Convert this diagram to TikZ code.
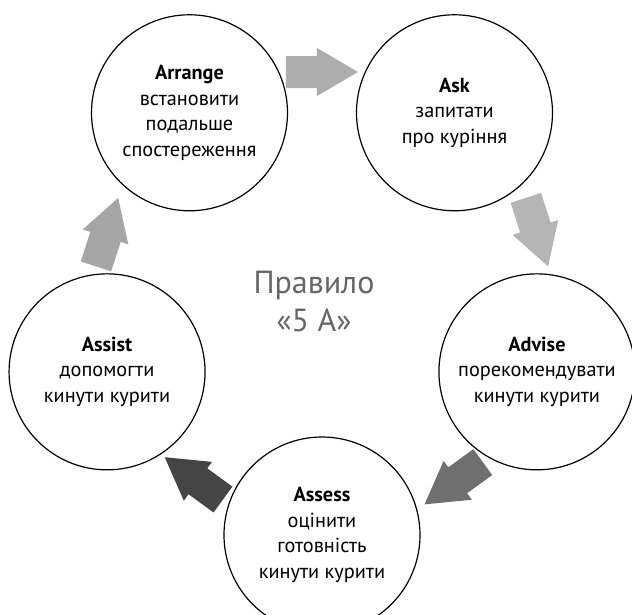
\documentclass[tikz,border=0pt]{standalone}
\usepackage{fontspec}
\setmainfont{PT Sans}
\usetikzlibrary{calc}

\definecolor{arrowA}{HTML}{ADADAD}
\definecolor{arrowB}{HTML}{B5B5B5}
\definecolor{arrowC}{HTML}{6F6F6F}
\definecolor{arrowD}{HTML}{454545}
\definecolor{arrowE}{HTML}{A6A6A6}
\definecolor{titlegray}{HTML}{666666}

\begin{document}
\begin{tikzpicture}[x=1pt, y=1pt,
    stage/.style={draw, circle, line width=1.2pt, minimum size=196pt, inner sep=0pt, align=center, font=\fontsize{20.3}{25.5}\selectfont},
    pics/cycarrow/.style={code={\path[pic actions] (-36,-16) -- (-5,-16) -- (-5,-24) -- (36,0) -- (-5,24) -- (-5,16) -- (-36,16) -- cycle;}}]

    \useasboundingbox (-322,-312) rectangle (310,302);
    \coordinate (cen) at (0,0);

    % Stages
    \node[stage] (arrange) at ($(cen)+(125:231)$) {\textbf{Arrange}\\встановити\\подальше\\спостереження};
    \node[stage] (ask) at ($(cen)+(55:231)$) {\textbf{Ask}\\запитати\\про куріння};
    \node[stage] (advise) at ($(cen)+(-18:226)$) {\textbf{Advise}\\порекомендувати\\кинути курити};
    \node[stage] (assess) at ($(cen)+(-90:233)$) {\textbf{Assess}\\оцінити\\готовність\\кинути курити};
    \node[stage] (assist) at ($(cen)+(198:226)$) {\textbf{Assist}\\допомогти\\кинути курити};

    % Arrows
    \pic[fill=arrowA, rotate=0] (arr1) at ($(cen)+(90:230)$) {cycarrow};
    \pic[fill=arrowB, rotate=-72] (arr2) at ($(cen)+(18:226)$) {cycarrow};
    \pic[fill=arrowC, rotate=-144] (arr3) at ($(cen)+(-54:224)$) {cycarrow};
    \pic[fill=arrowD, rotate=144] (arr4) at ($(cen)+(-126:218)$) {cycarrow};
    \pic[fill=arrowE, rotate=72] (arr5) at ($(cen)+(162:226)$) {cycarrow};

    % Title
    \node[text=titlegray, font=\fontsize{32}{38}\selectfont, align=center] (rule) at ($(cen)+(-8,1)$) {Правило\\«5 А»};
\end{tikzpicture}
\end{document}
